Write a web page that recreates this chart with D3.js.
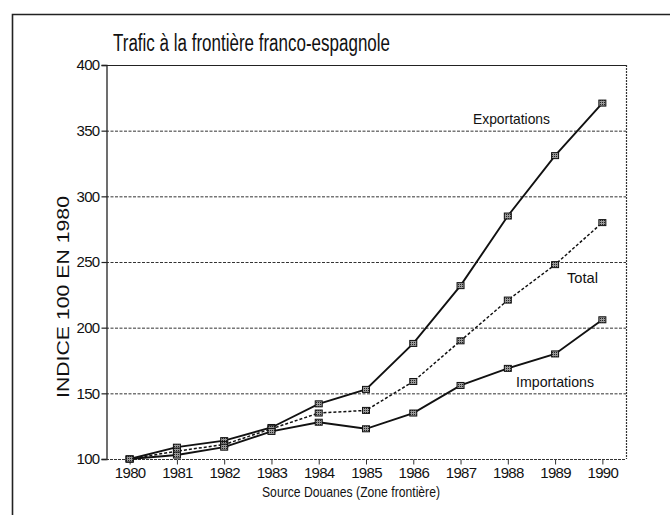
<!DOCTYPE html>
<html>
<head>
<meta charset="utf-8">
<script src="https://cdn.jsdelivr.net/npm/d3@7"></script>
<style>
  html, body { margin: 0; padding: 0; background: #fff; }
  svg { display: block; }
  text { font-family: "Liberation Sans", Arial, sans-serif; fill: #111; }
</style>
</head>
<body>
<svg id="chart" width="670" height="515"></svg>
<script>
const years = [1980, 1981, 1982, 1983, 1984, 1985, 1986, 1987, 1988, 1989, 1990];
const exportations = [100, 109, 114, 124, 142, 153, 188, 232, 285, 331, 371];
const total        = [100, 106, 111, 123, 135, 137, 159, 190, 221, 248, 280];
const importations = [100, 103, 109, 121, 128, 123, 135, 156, 169, 180, 206];
const yTicks = [100, 150, 200, 250, 300, 350, 400];

const svg = d3.select("#chart");
const W = 670, H = 515;
const m = { left: 106, right: 626, top: 65, bottom: 459 };

const x = d3.scalePoint().domain(years).range([m.left, m.right]).padding(0.5);
const y = d3.scaleLinear().domain([100, 400]).range([m.bottom, m.top]);

// outer frame (top and left)
svg.append("path")
  .attr("d", `M12.5,${H} L12.5,14.5 L${W},14.5`)
  .attr("fill", "none").attr("stroke", "#222").attr("stroke-width", 1.6);

// title
svg.append("text")
  .attr("x", 113).attr("y", 51)
  .attr("font-size", 23)
  .attr("textLength", 277).attr("lengthAdjust", "spacingAndGlyphs")
  .text("Trafic à la frontière franco-espagnole");

// grid lines (dashed)
svg.append("g").selectAll("line")
  .data(yTicks.filter(d => d > 100 && d < 400))
  .join("line")
  .attr("x1", m.left).attr("x2", m.right)
  .attr("y1", d => y(d) + 0.5).attr("y2", d => y(d) + 0.5)
  .attr("stroke", "#333").attr("stroke-width", 1)
  .attr("stroke-dasharray", "3,1.5");

// plot frame
svg.append("line").attr("x1", m.left).attr("x2", m.right)
  .attr("y1", m.top + 0.5).attr("y2", m.top + 0.5)
  .attr("stroke", "#222").attr("stroke-width", 1.2);
svg.append("line").attr("x1", m.right + 0.5).attr("x2", m.right + 0.5)
  .attr("y1", m.top).attr("y2", m.bottom)
  .attr("stroke", "#333").attr("stroke-width", 1.2).attr("stroke-dasharray", "2,1");

const tickFont = '"Liberation Sans", Arial, sans-serif';

// y axis
const yAxis = svg.append("g")
  .attr("transform", `translate(${m.left + 0.5},0)`)
  .call(d3.axisLeft(y).tickValues(yTicks).tickSize(5).tickPadding(2).tickFormat(d3.format("d")));
yAxis.select(".domain").attr("stroke", "#222").attr("stroke-width", 1.3);
yAxis.selectAll(".tick line").attr("stroke", "#222").attr("stroke-width", 1.2);
yAxis.selectAll(".tick text")
  .attr("font-size", 15).attr("fill", "#111")
  .style("font-family", tickFont)
  .attr("letter-spacing", "-0.7");

// x axis
const xAxis = svg.append("g")
  .attr("transform", `translate(0,${m.bottom + 0.5})`)
  .call(d3.axisBottom(x).tickSize(5).tickPadding(3).tickSizeOuter(0).tickFormat(d3.format("d")));
xAxis.select(".domain").attr("stroke", "#333").attr("stroke-width", 1.2)
  .attr("stroke-dasharray", "3,1").attr("d", `M${m.left},0H${m.right}`);
xAxis.selectAll(".tick line").attr("stroke", "#333").attr("stroke-width", 1);
xAxis.selectAll(".tick text")
  .attr("font-size", 15).attr("fill", "#111")
  .style("font-family", tickFont)
  .attr("letter-spacing", "-0.7");

// axis titles
svg.append("text")
  .attr("transform", "translate(69,297) rotate(-90)")
  .attr("text-anchor", "middle")
  .attr("font-size", 17)
  .attr("textLength", 202).attr("lengthAdjust", "spacingAndGlyphs")
  .text("INDICE 100 EN 1980");

svg.append("text")
  .attr("x", 262).attr("y", 497)
  .attr("font-size", 15)
  .attr("textLength", 178).attr("lengthAdjust", "spacingAndGlyphs")
  .text("Source Douanes (Zone frontière)");

// series
const series = [
  { name: "Exportations", values: exportations, dash: null },
  { name: "Total", values: total, dash: "3,2" },
  { name: "Importations", values: importations, dash: null }
];

const line = d3.line().x((d, i) => x(years[i])).y(d => y(d));

// hatch pattern for markers
const defs = svg.append("defs");
const pat = defs.append("pattern").attr("id", "hatch")
  .attr("patternUnits", "userSpaceOnUse").attr("width", 2).attr("height", 2);
pat.append("rect").attr("width", 2).attr("height", 2).attr("fill", "#999");
pat.append("rect").attr("width", 1).attr("height", 1).attr("fill", "#222");

const g = svg.append("g");
series.forEach(s => {
  g.append("path")
    .datum(s.values)
    .attr("d", line)
    .attr("fill", "none")
    .attr("stroke", "#111")
    .attr("stroke-width", s.dash ? 1.5 : 1.9)
    .attr("stroke-dasharray", s.dash);
});
series.forEach(s => {
  g.selectAll(null).data(s.values).join("rect")
    .attr("x", (d, i) => x(years[i]) - 3.5)
    .attr("y", d => y(d) - 3)
    .attr("width", 7).attr("height", 6)
    .attr("fill", "url(#hatch)")
    .attr("stroke", "#111").attr("stroke-width", 1);
});

// series labels
const labels = [
  { text: "Exportations", x: 473, y: 124, w: 77 },
  { text: "Total", x: 567, y: 283, w: 31 },
  { text: "Importations", x: 516, y: 387, w: 78 }
];
svg.append("g").selectAll("text").data(labels).join("text")
  .attr("x", d => d.x).attr("y", d => d.y)
  .attr("font-size", 15)
  .attr("textLength", d => d.w).attr("lengthAdjust", "spacingAndGlyphs")
  .text(d => d.text);
</script>
</body>
</html>
